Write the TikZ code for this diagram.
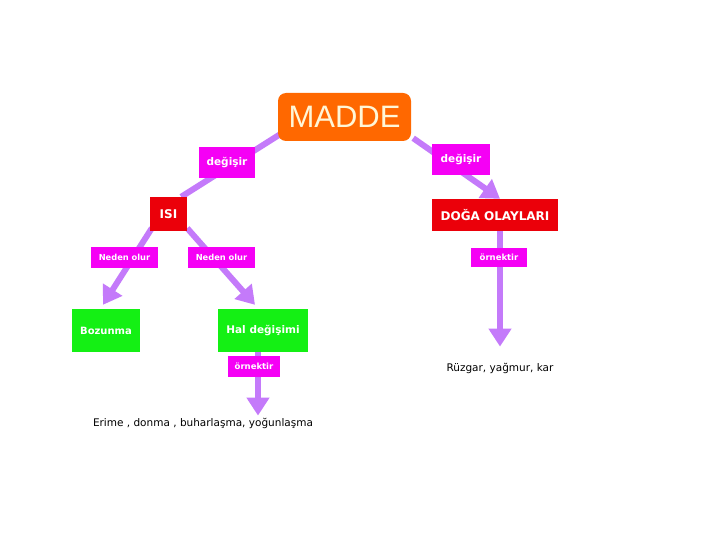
\documentclass[tikz,border=0pt]{standalone}
\usepackage{fontspec}
\setmainfont{DejaVu Sans}
\newfontfamily\titlefont{Liberation Sans}
\usetikzlibrary{arrows.meta,calc,backgrounds}
\definecolor{linec}{RGB}{196,122,250}
\definecolor{magbox}{RGB}{245,0,245}
\definecolor{redbox}{RGB}{235,0,10}
\definecolor{greenbox}{RGB}{20,240,20}
\definecolor{orangebox}{RGB}{255,104,0}
\definecolor{cream}{RGB}{255,246,215}
\tikzset{
  conn/.style={draw=linec,line width=6pt},
  arr/.style={conn,-{Triangle[width=22pt,length=18pt]}},
  labbox/.style={fill=magbox,text=white,inner sep=0pt,font=\bfseries},
  redn/.style={fill=redbox,text=white,inner sep=0pt,font=\bfseries\fontsize{12}{14}\selectfont},
  greenn/.style={fill=greenbox,text=white,inner sep=0pt,font=\bfseries\fontsize{10}{12}\selectfont},
  plaintext/.style={text=black,inner sep=1pt}
}
\begin{document}
\begin{tikzpicture}[x=1pt,y=-1pt]
\useasboundingbox (0,0) rectangle (720,540);
% nodes
\node[fill=orangebox,rounded corners=8pt,minimum width=133pt,minimum height=48pt,inner sep=0pt,text=cream,font=\titlefont\fontsize{31}{34}\selectfont] (madde) at (344.5,117) {MADDE};
\node[redn,minimum width=37pt,minimum height=34pt] (isi) at (168.5,214) {ISI};
\node[redn,minimum width=126pt,minimum height=32pt] (doga) at (495,215) {DOĞA OLAYLARI};
\node[labbox,minimum width=56pt,minimum height=31pt,font=\bfseries\fontsize{10.5}{12}\selectfont] (deg1) at (227,162.5) {değişir};
\node[labbox,minimum width=58pt,minimum height=31pt,font=\bfseries\fontsize{10.5}{12}\selectfont] (deg2) at (461,159.5) {değişir};
\node[labbox,minimum width=67pt,minimum height=21pt,font=\bfseries\fontsize{8.3}{10}\selectfont] (neden1) at (124.5,257.5) {Neden olur};
\node[labbox,minimum width=67pt,minimum height=21pt,font=\bfseries\fontsize{8.3}{10}\selectfont] (neden2) at (221.5,257.5) {Neden olur};
\node[greenn,minimum width=68pt,minimum height=43pt] (bozunma) at (106,330.5) {Bozunma};
\node[greenn,minimum width=90pt,minimum height=43pt,font=\bfseries\fontsize{10.5}{12}\selectfont] (hal) at (263,330.5) {Hal değişimi};
\node[labbox,minimum width=52pt,minimum height=21pt,font=\bfseries\fontsize{8.5}{10}\selectfont] (ornek1) at (254,366.5) {örnektir};
\node[labbox,minimum width=56pt,minimum height=19pt,font=\bfseries\fontsize{8.5}{10}\selectfont] (ornek2) at (499,257.5) {örnektir};
\node[plaintext,font=\fontsize{10.5}{12}\selectfont] (erime) at (203,423) {Erime , donma , buharlaşma, yoğunlaşma};
\node[plaintext,font=\fontsize{10.5}{12}\selectfont] (ruzgar) at (500,368) {Rüzgar, yağmur, kar};
% connectors
\coordinate (hs) at ($(hal.south)+(-5,0)$);
\coordinate (ds) at ($(doga.south)+(5,0)$);
\begin{pgfonlayer}{background}
\fill[white] (0,0) rectangle (720,540);
\draw[conn] ($(madde.south west)+(4,-8)$) -- ($(isi.north east)+(-6,0)$);
\draw[arr] ($(madde.south east)+(2,-3)$) -- ($(doga.north)+(5,0)$);
\draw[arr] ($(isi.south west)+(2,-3)$) -- ($(bozunma.north)+(-3,-4)$);
\draw[arr] ($(isi.south east)+(0,-3)$) -- ($(hal.north)+(-8,-4)$);
\draw[arr] (hs) -- ($(hs |- erime.north)+(0,-1)$);
\draw[arr] (ds) -- ($(ds |- ruzgar.north)+(0,-15)$);
\end{pgfonlayer}
\end{tikzpicture}
\end{document}
